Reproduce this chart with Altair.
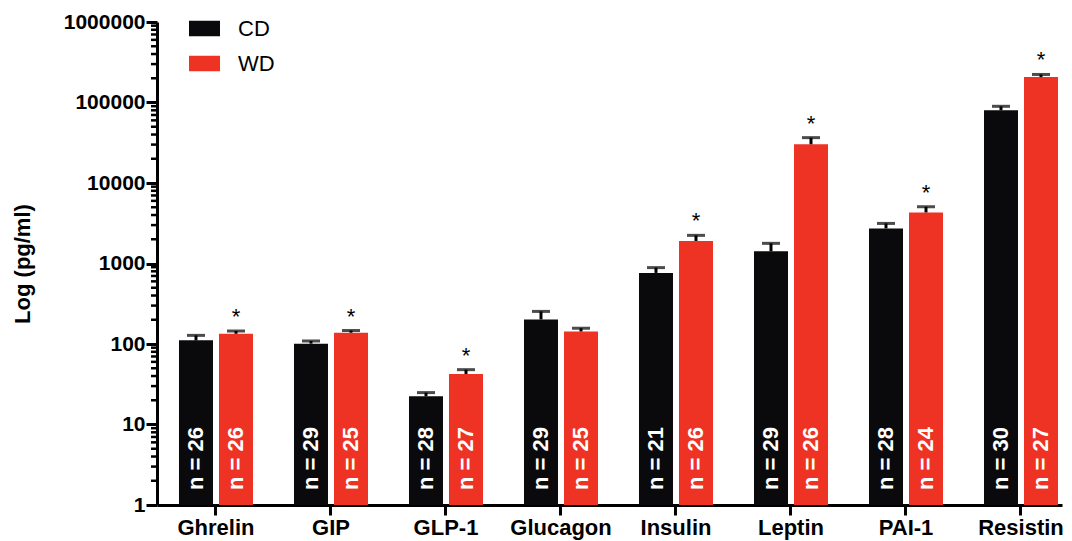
import altair as alt
import pandas as pd

categories = ["Ghrelin", "GIP", "GLP-1", "Glucagon", "Insulin", "Leptin", "PAI-1", "Resistin"]
groups = ["CD", "WD"]

cd_mean = [111, 101, 22.4, 202, 764, 1416, 2730, 80000]
cd_upper = [128, 109, 24.9, 254, 889, 1780, 3147, 89700]
cd_n = [26, 29, 28, 29, 21, 29, 28, 30]

wd_mean = [134, 138, 42.4, 143, 1905, 30300, 4310, 207000]
wd_upper = [145, 147, 48, 157, 2237, 36600, 5070, 223000]
wd_n = [26, 25, 27, 25, 26, 26, 24, 27]
wd_sig = ["*", "*", "*", "", "*", "*", "*", "*"]

decades = [1, 10, 100, 1000, 10000, 100000, 1000000]
minor_ticks = [m * 10 ** k for k in range(6) for m in range(2, 10)]

rows = []
for i, c in enumerate(categories):
    rows.append({"category": c, "group": "CD", "mean": cd_mean[i], "upper": cd_upper[i],
                 "n": f"n = {cd_n[i]}", "sig": ""})
    rows.append({"category": c, "group": "WD", "mean": wd_mean[i], "upper": wd_upper[i],
                 "n": f"n = {wd_n[i]}", "sig": wd_sig[i]})
df = pd.DataFrame(rows)
minor_df = pd.DataFrame({"v": minor_ticks})

FONT = "Liberation Sans"
W, H = 905, 483

yscale = alt.Scale(type="log", domain=[1, 1000000], nice=False)
xscale = alt.Scale(paddingInner=0.3565, paddingOuter=0.113, align=0.846)
xoff = alt.XOffset("group:N", sort=groups, scale=alt.Scale(paddingInner=0.15, paddingOuter=0))

xaxis = alt.Axis(title=None, labelAngle=0, domainWidth=3, domainColor="black",
                 tickSize=10, tickWidth=3, tickColor="black",
                 labelFontSize=22, labelFontWeight="bold", labelFont=FONT,
                 labelColor="black", labelPadding=2)
yaxis = alt.Axis(title="Log (pg/ml)", values=decades, format="d", grid=False,
                 domainWidth=3, domainColor="black", tickSize=11, tickWidth=3,
                 tickColor="black", labelFontSize=21, labelFontWeight="bold",
                 labelFont=FONT, labelColor="black", labelPadding=1,
                 titleFontSize=22, titleFontWeight="bold", titleFont=FONT,
                 titleColor="black", titleX=-135, titleBaseline="middle")

X = alt.X("category:N", sort=categories, scale=xscale, axis=xaxis, title=None)
YT = "Log (pg/ml)"

base = alt.Chart(df)

bars = base.mark_bar().encode(
    x=X,
    xOffset=xoff,
    y=alt.Y("mean:Q", scale=yscale, axis=yaxis, title=YT),
    y2=alt.datum(1),
    color=alt.Color("group:N", sort=groups,
                    scale=alt.Scale(domain=groups, range=["#0a0a0c", "#ee3224"]),
                    legend=alt.Legend(title=None, orient="none", legendX=32, legendY=-9,
                                      symbolType="M-1,-0.5H1V0.5H-1Z", symbolSize=961,
                                      symbolStrokeWidth=0, labelFontSize=22, labelFont=FONT,
                                      labelColor="black", labelOffset=18, rowPadding=8,
                                      padding=0)),
)

stems = base.mark_rule(color="black", strokeWidth=3).encode(
    x=X,
    xOffset=xoff,
    y=alt.Y("mean:Q", scale=yscale, axis=yaxis, title=YT),
    y2="upper:Q",
)

caps = base.mark_tick(color="black", thickness=3, size=18).encode(
    x=X,
    xOffset=xoff,
    y=alt.Y("upper:Q", scale=yscale, axis=yaxis, title=YT),
)

stars = base.mark_text(fontSize=22, font=FONT, color="black", baseline="alphabetic",
                       dy=-7).encode(
    x=X,
    xOffset=xoff,
    y=alt.Y("upper:Q", scale=yscale, axis=yaxis, title=YT),
    text="sig:N",
)

nlabels = base.mark_text(angle=270, align="left", baseline="middle", dx=15, color="white",
                         fontSize=22, fontWeight="bold", font=FONT).encode(
    x=X,
    xOffset=xoff,
    y=alt.datum(1, scale=yscale, axis=yaxis, title=YT),
    text="n:N",
)

minor = alt.Chart(minor_df).mark_rule(color="black", strokeWidth=2.5).encode(
    y=alt.Y("v:Q", scale=yscale, axis=yaxis, title=YT),
    x=alt.value(-6),
    x2=alt.value(0),
)

chart = alt.layer(bars, stems, caps, stars, nlabels, minor).properties(
    width=W, height=H,
    autosize=alt.AutoSizeParams(type="none"),
    padding={"left": 149, "top": 14, "right": 2, "bottom": 35},
    background="white",
).configure_view(stroke=None)

chart.save("out.html", embed_options={"renderer": "svg", "actions": False})
